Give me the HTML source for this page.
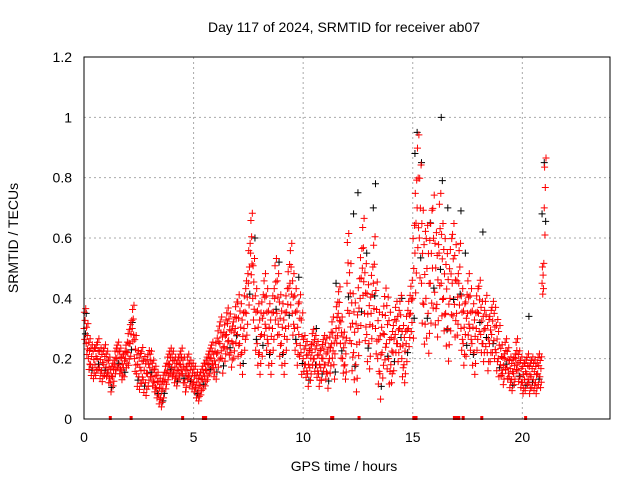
<!DOCTYPE html>
<html><head><meta charset="utf-8"><style>
body{margin:0;background:#fff}
svg{display:block;font-family:"Liberation Sans",sans-serif}
</style></head><body>
<svg id="c" width="640" height="480">
<rect width="640" height="480" fill="#fff"/>
<text x="344" y="32" font-size="14" text-anchor="middle">Day 117 of 2024, SRMTID for receiver ab07</text>
<text x="344" y="471" font-size="14" text-anchor="middle">GPS time / hours</text>
<text transform="translate(18,238) rotate(-90)" font-size="14" text-anchor="middle">SRMTID / TECUs</text>
<g id="grid"></g><g id="black"></g><g id="red"></g>
<rect x="84" y="57" width="526" height="362" fill="none" stroke="#000"/>
</svg>
<script>
const xTicks=[0,5,10,15,20];
const yTicks=[0,0.2,0.4,0.6,0.8,1,1.2];
const yLabels=["0","0.2","0.4","0.6","0.8","1","1.2"];
// red centre values every 0.1 h from 0
const redCentre=[0.30,0.25,0.20,0.18,0.17,0.18,0.20,0.17,0.16,0.18,
0.17,0.15,0.12,0.14,0.18,0.20,0.18,0.16,0.17,0.20,
0.22,0.25,0.30,0.20,0.15,0.14,0.16,0.13,0.12,0.15,
0.17,0.14,0.12,0.10,0.08,0.07,0.10,0.13,0.16,0.18,
0.17,0.15,0.14,0.16,0.18,0.15,0.12,0.16,0.14,0.13,
0.12,0.10,0.09,0.11,0.13,0.14,0.16,0.18,0.20,0.17,
0.18,0.22,0.25,0.20,0.24,0.28,0.26,0.22,0.25,0.30,
0.28,0.25,0.22,0.30,0.35,0.45,0.55,0.40,0.30,0.25,
0.22,0.28,0.35,0.30,0.25,0.22,0.30,0.40,0.35,0.28,
0.25,0.22,0.30,0.38,0.45,0.35,0.30,0.25,0.28,0.22,
0.20,0.18,0.15,0.17,0.22,0.20,0.18,0.15,0.17,0.20,
0.18,0.15,0.20,0.25,0.18,0.30,0.35,0.25,0.20,0.18,
0.45,0.35,0.25,0.22,0.18,0.30,0.40,0.50,0.35,0.28,
0.25,0.35,0.45,0.30,0.20,0.15,0.22,0.28,0.25,0.20,
0.18,0.22,0.28,0.25,0.30,0.20,0.18,0.25,0.30,0.35,
0.40,0.55,0.70,0.60,0.45,0.38,0.40,0.35,0.45,0.50,
0.42,0.38,0.55,0.45,0.40,0.35,0.30,0.40,0.45,0.38,
0.35,0.45,0.30,0.25,0.28,0.35,0.30,0.25,0.22,0.30,
0.35,0.28,0.25,0.30,0.22,0.25,0.28,0.26,0.22,0.20,
0.18,0.15,0.20,0.17,0.14,0.13,0.15,0.20,0.16,0.14,
0.12,0.13,0.15,0.12,0.14,0.13,0.12,0.15,0.14,0.45,0.70];
// hourly spread of scatter around centre
const hourSpread=[0.06,0.05,0.07,0.05,0.05,0.05,0.08,0.12,0.12,0.12,0.07,0.08,0.15,0.14,0.10,0.22,0.18,0.12,0.10,0.06,0.06,0.15];
// black spikes [hour, value]
const blackHours=[0.1,2.2,7.8,8.9,9.8,11.5,12.3,12.5,12.9,13.2,13.3,15.1,15.2,15.4,15.8,16.3,16.35,16.6,17.2,17.4,18.2,20.3,20.9,21.0,5.2,3.6,10.6,14.5];
const blackVals=[0.35,0.32,0.60,0.52,0.47,0.45,0.68,0.75,0.55,0.70,0.78,0.88,0.95,0.85,0.65,1.00,0.79,0.70,0.69,0.55,0.62,0.34,0.68,0.85,0.08,0.06,0.30,0.40];
// zero-valued points
const zeroHours=[1.2,2.15,4.5,5.45,5.55,11.3,11.35,12.55,15.05,15.15,16.9,17.0,17.1,17.3,18.15,20.15];
const X=h=>84+h*526/24, Y=v=>419-v*362/1.2;
const NS="http://www.w3.org/2000/svg";
const grid=document.getElementById('grid');
function el(tag,attrs,parent){const e=document.createElementNS(NS,tag);for(const k in attrs)e.setAttribute(k,attrs[k]);parent.appendChild(e);return e;}
xTicks.forEach(t=>{
 if(t>0){const l=el('line',{x1:X(t),x2:X(t),y1:57,y2:419,stroke:'#aaa','stroke-dasharray':'2,3'},grid);
 
 }
 const tx=el('text',{x:X(t),y:442,'font-size':14,'text-anchor':'middle'},grid);tx.textContent=t;
 
 
});
yTicks.forEach((t,i)=>{
 if(t>0&&t<1.2){const l=el('line',{x1:84,x2:610,y1:Y(t),y2:Y(t),stroke:'#aaa','stroke-dasharray':'2,3'},grid);
 
 }
 const tx=el('text',{x:72,y:Y(t)+5,'font-size':14,'text-anchor':'end'},grid);tx.textContent=yLabels[i];
 
 
});
function plus(g,h,v,col){
 const x=X(h),y=Y(v);
 const p=el('path',{d:`M${x-3.5},${y}h7M${x},${y-3.5}v7`,stroke:col,'stroke-width':1},g);
 
 
}
const bg=document.getElementById('black'),rg=document.getElementById('red');
const offs=[0,0.9,-0.6,0.45,-0.3,1.1];
redCentre.forEach((v,i)=>{
 const h=i*0.1,s=hourSpread[Math.min(Math.floor(h),hourSpread.length-1)];
 offs.forEach((o,k)=>{const val=Math.max(0.04,v+o*s);const blk=(k==4&&i%3==0);plus(blk?bg:rg,h+k*0.016,val,blk?'#000':'#f00');});
});
blackHours.forEach((h,i)=>plus(bg,h,blackVals[i],'#000'));
zeroHours.forEach(h=>{const x=X(h);const r=el('rect',{x:x-1.5,y:416,width:3,height:4,fill:'#f00'},rg);
 
 });
</script>
</body></html>
